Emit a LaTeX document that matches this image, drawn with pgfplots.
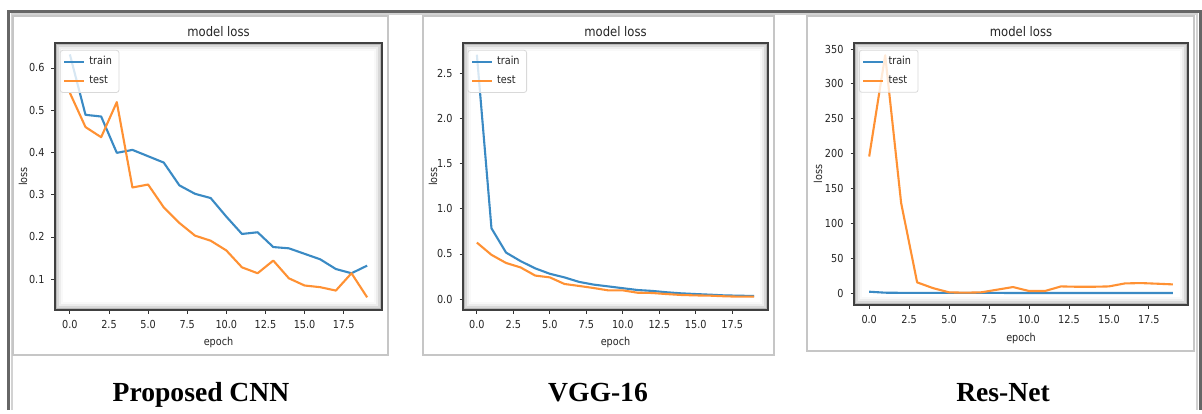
\documentclass[border=0pt]{standalone}
\usepackage{fontspec}
\setmainfont{Liberation Serif}
\newfontfamily\mpl[FakeStretch=0.88]{DejaVu Sans}
\usepackage{pgfplots}
\pgfplotsset{compat=1.18}

\definecolor{mplblue}{HTML}{3A8AC4}
\definecolor{mplorange}{HTML}{FF9133}

\pgfplotsset{
  every axis title shift=0pt,
  mpl/.style={
    scale only axis, anchor=north west,
    xmin=-0.95, xmax=19.95,
    xtick={0,2.5,...,17.5},
    xticklabels={0.0,2.5,5.0,7.5,10.0,12.5,15.0,17.5},
    tick align=outside, xtick pos=bottom, ytick pos=left,
    major tick length=1.75pt,
    tick style={black!80, line width=0.4pt},
    axis line style={black!75, line width=1.2pt},
    ticklabel style={font=\mpl\fontsize{5.5}{6}\selectfont, text=black!85},
    /pgf/number format/assume math mode=true,
    title={model loss},
    title style={font=\mpl\fontsize{6.6}{7}\selectfont, text=black!85,
      at={(axis description cs:0.5,1)}, anchor=base, yshift=3.5pt},
    xlabel={epoch}, ylabel={loss},
    label style={font=\mpl\fontsize{5.5}{6}\selectfont, text=black!85},
    xlabel style={at={(axis description cs:0.5,-0.133)}, anchor=base},
    ylabel style={at={(axis description cs:-0.098,0.5)}, anchor=center},
    legend cell align=left,
    legend image code/.code={\draw[##1] (0pt,0pt) -- (10pt,0pt);},
    legend style={at={(0.015,0.974)}, anchor=north west, draw=black!15,
      rounded corners=1.2pt, fill=white, fill opacity=0.8, text opacity=1,
      font=\mpl\fontsize{5.5}{6}\selectfont, text=black!85,
      inner xsep=1.5pt, inner ysep=1pt, row sep=0pt},
    every axis plot/.append style={line width=1.05pt, no markers, line join=round},
    axis background/.style={fill=white, path picture={
      \draw[gray!5, line width=8pt] (path picture bounding box.south west) rectangle (path picture bounding box.north east);
      \draw[gray!14, line width=6pt] (path picture bounding box.south west) rectangle (path picture bounding box.north east);
      \draw[gray!30, line width=4pt] (path picture bounding box.south west) rectangle (path picture bounding box.north east);
      \draw[gray!55, line width=2pt] (path picture bounding box.south west) rectangle (path picture bounding box.north east);
    }},
  }
}

\begin{document}
\begin{tikzpicture}
\fill[white] (0,0) rectangle (601pt,-205pt);

% outer frame of the figure
\draw[black!60, line width=1.5pt] (4.25pt,-205pt) -- (4.25pt,-5.5pt) -- (600.25pt,-5.5pt) -- (600.25pt,-205pt);
\draw[gray!35, line width=1pt] (5.75pt,-205pt) -- (5.75pt,-7pt) -- (598.5pt,-7pt) -- (598.5pt,-205pt);

% panel frames
\draw[gray!45, line width=0.6pt] (6.5pt,-8pt) rectangle (194pt,-177.5pt);
\draw[gray!45, line width=0.6pt] (211.5pt,-8pt) rectangle (387pt,-177.5pt);
\draw[gray!45, line width=0.6pt] (403.5pt,-8pt) rectangle (597pt,-175.5pt);

% Proposed CNN
\begin{axis}[mpl, at={(27.5pt,-21.5pt)}, width=163.5pt, height=133.5pt,
  ymin=0.027, ymax=0.659,
  ytick={0.1,0.2,0.3,0.4,0.5,0.6},
  yticklabels={0.1,0.2,0.3,0.4,0.5,0.6}]
\addplot[mplblue] coordinates {
(0,0.632) (1,0.489) (2,0.485) (3,0.399) (4,0.406) (5,0.391) (6,0.376)
(7,0.322) (8,0.302) (9,0.292) (10,0.248) (11,0.207) (12,0.211) (13,0.176)
(14,0.173) (15,0.160) (16,0.147) (17,0.124) (18,0.114) (19,0.132)};
\addlegendentry{train}
\addplot[mplorange] coordinates {
(0,0.541) (1,0.460) (2,0.436) (3,0.519) (4,0.317) (5,0.324) (6,0.270)
(7,0.233) (8,0.203) (9,0.191) (10,0.168) (11,0.128) (12,0.114) (13,0.144)
(14,0.102) (15,0.085) (16,0.081) (17,0.073) (18,0.114) (19,0.057)};
\addlegendentry{test}
\end{axis}

% VGG-16
\begin{axis}[mpl, at={(231.5pt,-21.5pt)}, width=152.5pt, height=133.5pt,
  ymin=-0.122, ymax=2.84,
  ytick={0,0.5,1,1.5,2,2.5},
  yticklabels={0.0,0.5,1.0,1.5,2.0,2.5}]
\addplot[mplblue] coordinates {
(0,2.71) (1,0.785) (2,0.515) (3,0.42) (4,0.34) (5,0.28) (6,0.24)
(7,0.19) (8,0.16) (9,0.14) (10,0.12) (11,0.10) (12,0.09) (13,0.075)
(14,0.063) (15,0.055) (16,0.048) (17,0.040) (18,0.037) (19,0.033)};
\addlegendentry{train}
\addplot[mplorange] coordinates {
(0,0.626) (1,0.49) (2,0.40) (3,0.35) (4,0.26) (5,0.24) (6,0.167)
(7,0.145) (8,0.122) (9,0.096) (10,0.096) (11,0.07) (12,0.067) (13,0.055)
(14,0.045) (15,0.04) (16,0.037) (17,0.03) (18,0.026) (19,0.026)};
\addlegendentry{test}
\end{axis}

% Res-Net
\begin{axis}[mpl, at={(427pt,-21.5pt)}, width=167pt, height=131pt,
  ymin=-17.2, ymax=358.6,
  ytick={0,50,...,350},
  yticklabels={0,50,100,150,200,250,300,350},
  xlabel style={at={(axis description cs:0.5,-0.14)}},
  ylabel style={at={(axis description cs:-0.108,0.5)}}]
\addplot[mplblue] coordinates {
(0,1.9) (1,0.5) (2,0.3) (3,0.25) (4,0.2) (5,0.2) (6,0.15)
(7,0.15) (8,0.15) (9,0.1) (10,0.1) (11,0.1) (12,0.1) (13,0.1)
(14,0.1) (15,0.1) (16,0.1) (17,0.1) (18,0.1) (19,0.1)};
\addlegendentry{train}
\addplot[mplorange] coordinates {
(0,195.8) (1,341) (2,129) (3,15.3) (4,7) (5,1) (6,0.5)
(7,1) (8,4.8) (9,8.6) (10,2.9) (11,2.9) (12,9.5) (13,9)
(14,9) (15,9.5) (16,13.8) (17,14.3) (18,13.4) (19,12.4)};
\addlegendentry{test}
\end{axis}

% captions
\node[anchor=base, font=\fontsize{13.8}{15}\selectfont\bfseries] at (100.5pt,-200.5pt) {Proposed CNN};
\node[anchor=base, font=\fontsize{13.8}{15}\selectfont\bfseries] at (299pt,-200.5pt) {VGG-16};
\node[anchor=base, font=\fontsize{13.8}{15}\selectfont\bfseries] at (501.5pt,-200.5pt) {Res-Net};
\end{tikzpicture}
\end{document}
